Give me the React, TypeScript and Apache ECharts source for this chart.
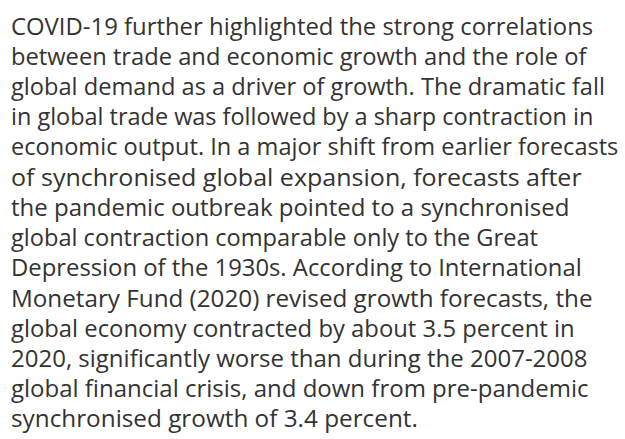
import React, { useEffect, useRef } from "react";
import * as echarts from "echarts";

const lines: string[] = [
  "COVID-19 further highlighted the strong correlations",
  "between trade and economic growth and the role of",
  "global demand as a driver of growth. The dramatic fall",
  "in global trade was followed by a sharp contraction in",
  "economic output. In a major shift from earlier forecasts",
  "of synchronised global expansion, forecasts after",
  "the pandemic outbreak pointed to a synchronised",
  "global contraction comparable only to the Great",
  "Depression of the 1930s. According to International",
  "Monetary Fund (2020) revised growth forecasts, the",
  "global economy contracted by about 3.5 percent in",
  "2020, significantly worse than during the 2007-2008",
  "global financial crisis, and down from pre-pandemic",
  "synchronised growth of 3.4 percent.",
];

// layout: right edge of each line as seen in the reference (null = natural width)
const lineRight: (number | null)[] = [
  593, 587, 605, 594, 619, 582, null, 538, 582, 593, 575, null, null, 418,
];

const FONT = "400 24px 'Open Sans'";

export default function App() {
  const ref = useRef<HTMLDivElement>(null);
  useEffect(() => {
    if (!ref.current) return;
    const chart = echarts.init(ref.current, null, { renderer: "svg" });
    const x0 = 11;
    const y0 = 25.7;
    const lh = 30.15;
    const ctx = document.createElement("canvas").getContext("2d");
    if (ctx) ctx.font = FONT;
    chart.setOption({
      animation: false,
      backgroundColor: "#ffffff",
      graphic: lines.map((t, i) => {
        let sx = 1;
        const r = lineRight[i];
        if (ctx && r != null) {
          const w = ctx.measureText(t).width;
          if (w > 0) sx = Math.max(0.9, Math.min(1.1, (r - x0) / w));
        }
        return {
          type: "text",
          x: x0,
          y: y0 + lh * i,
          scaleX: sx,
          style: {
            text: t,
            fill: "#333333",
            font: FONT,
            lineHeight: 28,
            verticalAlign: "middle",
            align: "left",
          },
        };
      }),
    });
    return () => chart.dispose();
  }, []);
  return <div ref={ref} style={{ width: 625, height: 439, position: "absolute", left: 0, top: 0 }} />;
}
